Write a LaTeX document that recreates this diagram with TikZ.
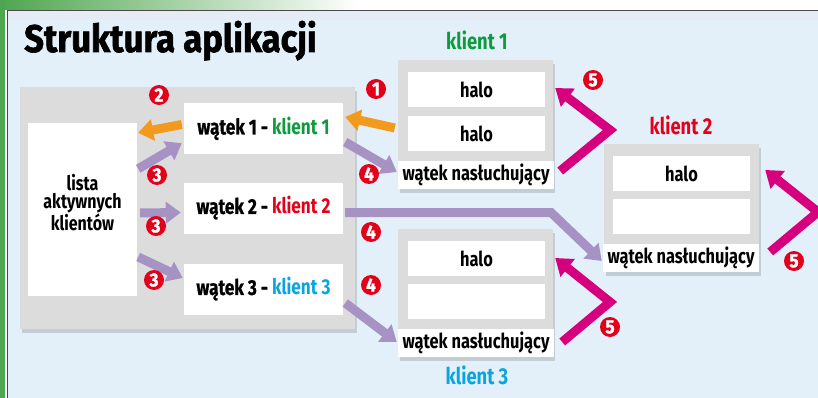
\documentclass[tikz,border=0pt]{standalone}
\usepackage{fontspec}
\setmainfont{Fira Sans}
\newfontfamily\cf{Fira Sans}[FakeStretch=0.8]
\newfontfamily\cfm{Fira Sans}[FakeStretch=0.8, FakeBold=0.8]
\newfontfamily\tf{Fira Sans}[FakeStretch=0.9, BoldFeatures={FakeBold=1.5}]
\usetikzlibrary{arrows.meta,shadows,calc}
\definecolor{bgblue}{HTML}{E3F0FA}
\definecolor{bandblue}{HTML}{E6ECF5}
\definecolor{framegray}{HTML}{4A4A4A}
\definecolor{panelgray}{HTML}{DCDCDC}
\definecolor{stripgreen}{HTML}{4FA650}
\definecolor{oarrow}{HTML}{F29A1D}
\definecolor{parrow}{HTML}{A693C3}
\definecolor{marrow}{HTML}{D6007F}
\definecolor{numred}{HTML}{E2001A}
\definecolor{kgreen}{HTML}{0D9B3E}
\definecolor{kred}{HTML}{E2001A}
\definecolor{kblue}{HTML}{0AA5E1}
\tikzset{
  panel/.style={fill=panelgray, inner sep=0pt,
    drop shadow={shadow xshift=2pt, shadow yshift=-4pt, opacity=0.25, fill=black!60}},
  wbox/.style={fill=white, inner sep=0pt, font=\cf\bfseries\fontsize{20.5}{22}\selectfont},
  thread/.style={wbox, minimum width=159pt, minimum height=51pt, font=\cf\bfseries\fontsize{21.5}{22}\selectfont},
  halobox/.style={wbox, minimum width=137pt, minimum height=35pt},
  listenbox/.style={wbox, minimum width=156pt, minimum height=28pt},
  klabel/.style={font=\cf\bfseries\fontsize{23}{24}\selectfont, inner sep=0pt},
  num/.style={circle, fill=numred, text=white, inner sep=0pt, minimum size=20pt,
    font=\tf\bfseries\fontsize{19}{19}\selectfont},
  oarr/.style={draw=oarrow, line width=9pt, -{Triangle[width=21pt,length=15pt]}},
  parr/.style={draw=parrow, line width=9pt, line join=miter, -{Triangle[width=21pt,length=15pt]}},
  marr/.style={draw=marrow, line width=9pt, line join=miter, miter limit=10, -{Triangle[width=22pt,length=16pt]}}
}
\begin{document}
\begin{tikzpicture}[x=1pt,y=-1pt]
\useasboundingbox (0,0) rectangle (818,398);
% background
\fill[white] (0,0) rectangle (818,398);
\shade[left color=stripgreen, right color=white] (0,0) rectangle (360,10);
\fill[stripgreen] (0,0) rectangle (5,398);
\fill[bgblue] (7.5,10.5) rectangle (830,410);
\fill[bandblue] (8,11) rectangle (830,20);
\draw[framegray, line width=1.5pt] (7.5,410) -- (7.5,10.5) -- (830,10.5);
% title
\node[anchor=base west, inner sep=0pt, font=\tf\bfseries\fontsize{38.5}{40}\selectfont] (title) at (24,52) {Struktura aplikacji};
% left panel
\node[panel, minimum width=335pt, minimum height=242pt] (lp) at (187.5,208) {};
\node[wbox, minimum width=109pt, minimum height=173pt] (list) at (82.5,209.5) {};
\node[inner sep=0pt, align=center, font=\cf\bfseries\fontsize{20}{18.5}\selectfont]
  (listtxt) at ($(list.center)+(0,-7)$) {lista\\aktywnych\\klientów};
\node[thread] (w1) at (263.5,128.5) {{\cfm wątek 1 -} \textcolor{kgreen}{klient 1}};
\node[thread] (w2) at (263.5,208) {{\cfm wątek 2 -} \textcolor{kred}{klient 2}};
\node[thread] (w3) at (263.5,289) {{\cfm wątek 3 -} \textcolor{kblue}{klient 3}};
% client 1
\node[panel, minimum width=155pt, minimum height=129pt] (c1p) at (475.5,124.5) {};
\node[halobox] (c1a) at (476.5,89.5) {halo};
\node[halobox] (c1b) at (476.5,133.5) {halo};
\node[listenbox] (c1l) at (476,175) {wątek nasłuchujący};
\node[klabel, text=kgreen] (k1) at (477,40) {klient 1};
% client 2
\node[panel, minimum width=155pt, minimum height=128pt] (c2p) at (681,208) {};
\node[halobox] (c2a) at (681.5,173.5) {halo};
\node[halobox] (c2b) at (681.5,216.5) {};
\node[listenbox] (c2l) at (681,258) {wątek nasłuchujący};
\node[klabel, text=kred] (k2) at (681,125) {klient 2};
% client 3
\node[panel, minimum width=155pt, minimum height=128pt] (c3p) at (475.5,293) {};
\node[halobox] (c3a) at (476.5,258.5) {halo};
\node[halobox] (c3b) at (476.5,301.5) {};
\node[listenbox] (c3l) at (476,343) {wątek nasłuchujący};
\node[klabel, text=kblue] (k3) at (477,375) {klient 3};
% orange arrows
\draw[oarr] ($(c1p.west)+(-3,3.5)$) -- ($(w1.east)+(2,-11.5)$);
\draw[oarr] ($(w1.west)+(-2,-4)$) -- ($(list.north east)+(1,10)$);
% purple arrows 3
\draw[parr] ($(list.north east)+(1,46)$) -- ($(w1.south west)+(-2,-11)$);
\draw[parr] ($(list.east)+(3,3.5)$) -- ($(w2.west)+(-3,4.5)$);
\draw[parr] ($(list.east)+(1,47.5)$) -- ($(w3.west)+(-1,-11)$);
% purple arrows 4
\draw[parr] ($(w1.east)+(2,13.5)$) -- ($(c1l.west)+(-1,-3)$);
\coordinate (bend) at (551,212.5);
\draw[parr] ($(w2.east)+(2,4.5)$) -- (bend) -- ($(c2l.west)+(-1,3)$);
\draw[parr] ($(w3.east)+(2,14)$) -- ($(c3l.west)+(-1,-1)$);
% magenta chevrons
\coordinate (ap1) at (610,130);
\coordinate (ap2) at (818,212);
\coordinate (ap3) at (610,302);
\draw[marr] ($(c1l.east)+(6,-4)$) -- (ap1) -- ($(c1a.east)+(10,-1.5)$);
\draw[marr] ($(c2l.east)+(11,-6)$) -- (ap2) -- ($(c2a.east)+(15,-3.5)$);
\draw[marr] ($(c3l.east)+(8,-1)$) -- (ap3) -- ($(c3a.east)+(10,-0.5)$);
% numbers
\node[num] (n1) at (376,89) {1};
\node[num] (n2) at (159,95) {2};
\node[num] (n3a) at (157,175) {3};
\node[num] (n3b) at (156,226) {3};
\node[num] (n3c) at (154,280) {3};
\node[num] (n4a) at (369,174) {4};
\node[num] (n4b) at (371,232) {4};
\node[num] (n4c) at (371,285) {4};
\node[num] (n5a) at (593,80) {5};
\node[num] (n5b) at (794,261) {5};
\node[num] (n5c) at (610,327) {5};
\end{tikzpicture}
\end{document}
